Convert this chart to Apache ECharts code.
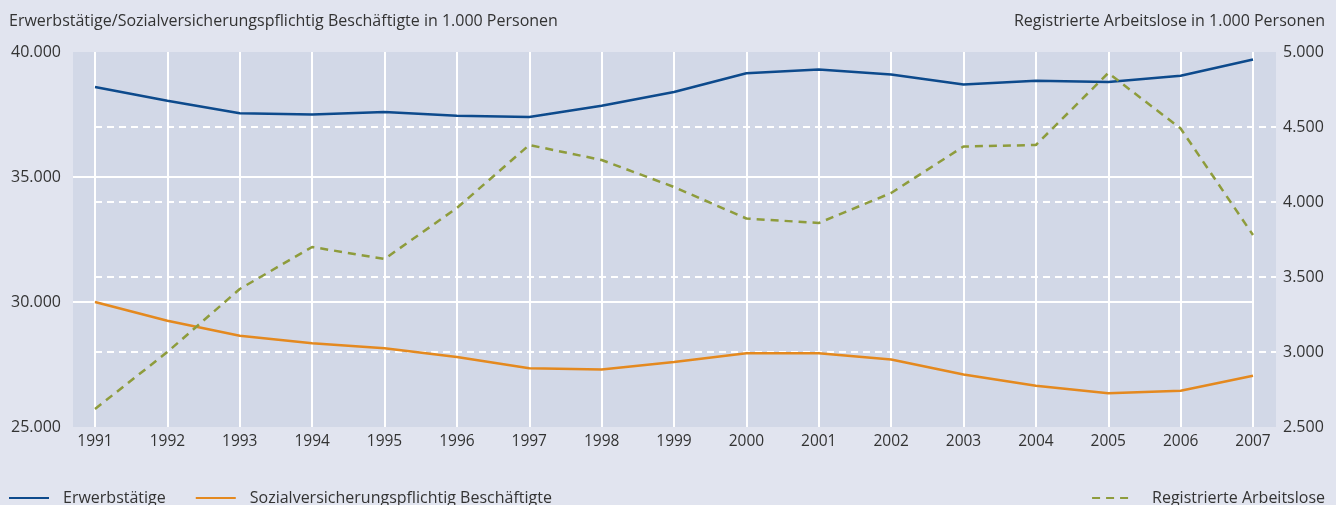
<!DOCTYPE html>
<html>
<head>
<meta charset="utf-8">
<script src="https://cdn.jsdelivr.net/npm/echarts@6/dist/echarts.min.js"></script>
<style>
  html, body { margin: 0; padding: 0; background: #e1e4ef; }
  #chart { width: 1336px; height: 505px; }
</style>
</head>
<body>
<div id="chart"></div>
<script>
// Jahre (x-Achse)
const years = ['1991', '1992', '1993', '1994', '1995', '1996', '1997', '1998', '1999',
    '2000', '2001', '2002', '2003', '2004', '2005', '2006', '2007'];

// in 1.000 Personen, linke Achse
const erwerbstaetige = [38600, 38050, 37550, 37500, 37600, 37450, 37400, 37850, 38400,
    39150, 39300, 39100, 38700, 38850, 38800, 39050, 39700];
const sozialversichert = [30000, 29250, 28650, 28350, 28150, 27800, 27350, 27300, 27600,
    27950, 27950, 27700, 27100, 26650, 26350, 26450, 27050];

// in 1.000 Personen, rechte Achse
const arbeitslose = [2620, 3000, 3420, 3700, 3620, 3960, 4380, 4280, 4100,
    3890, 3860, 4060, 4370, 4380, 4860, 4490, 3780];

const textColor = '#333333';
const fontFam = '"Open Sans", sans-serif';

// 40000 -> "40.000"
function deNum(v) {
    return String(v).replace(/\B(?=(\d{3})+(?!\d))/g, '.');
}

const hiddenAxis = { show: false, splitLine: { show: false } };

const option = {
    backgroundColor: '#e1e4ef',
    animation: false,
    textStyle: { fontFamily: fontFam, color: textColor },
    title: [
        {
            text: 'Erwerbstätige/Sozialversicherungspflichtig Beschäftigte in 1.000 Personen',
            left: 4, top: 8,
            textStyle: { fontSize: 16, fontWeight: 'normal', color: textColor, fontFamily: fontFam }
        },
        {
            text: 'Registrierte Arbeitslose in 1.000 Personen',
            right: 6, top: 8,
            textStyle: { fontSize: 16, fontWeight: 'normal', color: textColor, fontFamily: fontFam }
        }
    ],
    legend: [
        {
            left: 3, top: 485,
            itemWidth: 40, itemHeight: 12, itemGap: 29,
            itemStyle: { opacity: 0 },
            textStyle: { fontSize: 16, color: textColor, padding: [0, 0, 0, 9] },
            data: ['Erwerbstätige', 'Sozialversicherungspflichtig Beschäftigte']
        },
        {
            right: 6, top: 485,
            itemWidth: 38, itemHeight: 12,
            itemStyle: { opacity: 0 },
            textStyle: { fontSize: 16, color: textColor, padding: [0, 0, 0, 17] },
            data: ['Registrierte Arbeitslose']
        }
    ],
    grid: [
        // Hintergrund der Zeichenfläche
        { left: 73, right: 60, top: 52, bottom: 78, show: true, backgroundColor: '#d2d8e7', borderWidth: 0 },
        // linke Achse (durchgezogene Linien)
        { left: 73, right: 83, top: 52, bottom: 78 },
        // rechte Achse (gestrichelte Linien)
        { left: 95, right: 60, top: 52, bottom: 78 },
        // Daten
        { left: 95, right: 83, top: 52, bottom: 78 }
    ],
    xAxis: [
        Object.assign({ gridIndex: 0, type: 'value' }, hiddenAxis),
        Object.assign({ gridIndex: 1, type: 'value' }, hiddenAxis),
        Object.assign({ gridIndex: 2, type: 'value' }, hiddenAxis),
        {
            gridIndex: 3,
            type: 'category',
            data: years,
            boundaryGap: false,
            axisLine: { show: false },
            axisTick: { show: false },
            axisLabel: { color: textColor, fontSize: 15.5, margin: 7 },
            splitLine: { show: true, interval: 0, lineStyle: { color: '#ffffff', width: 2 } }
        }
    ],
    yAxis: [
        Object.assign({ gridIndex: 0, type: 'value' }, hiddenAxis),
        {
            gridIndex: 1,
            type: 'value',
            min: 25000, max: 40000, interval: 5000,
            axisLine: { show: false },
            axisTick: { show: false },
            axisLabel: { color: textColor, fontSize: 16, margin: 12, formatter: deNum },
            splitLine: { show: true, showMinLine: false, showMaxLine: false, lineStyle: { color: '#ffffff', width: 2 } }
        },
        {
            gridIndex: 2,
            type: 'value',
            position: 'right',
            min: 2500, max: 5000, interval: 500,
            axisLine: { show: false },
            axisTick: { show: false },
            axisLabel: { color: textColor, fontSize: 16, margin: 7, formatter: deNum },
            splitLine: { show: true, showMinLine: false, showMaxLine: false, lineStyle: { color: '#ffffff', width: 2, type: [7, 5] } }
        },
        Object.assign({ gridIndex: 3, type: 'value', min: 25000, max: 40000 }, hiddenAxis),
        Object.assign({ gridIndex: 3, type: 'value', min: 2500, max: 5000 }, hiddenAxis)
    ],
    series: [
        {
            name: 'Erwerbstätige',
            type: 'line',
            xAxisIndex: 3, yAxisIndex: 3,
            data: erwerbstaetige,
            symbol: 'none',
            color: '#0d4a8c',
            lineStyle: { color: '#0d4a8c', width: 2.5 }
        },
        {
            name: 'Sozialversicherungspflichtig Beschäftigte',
            type: 'line',
            xAxisIndex: 3, yAxisIndex: 3,
            data: sozialversichert,
            symbol: 'none',
            color: '#e4891f',
            lineStyle: { color: '#e4891f', width: 2.5 }
        },
        {
            name: 'Registrierte Arbeitslose',
            type: 'line',
            xAxisIndex: 3, yAxisIndex: 4,
            data: arbeitslose,
            symbol: 'none',
            color: '#8e9c3c',
            lineStyle: { color: '#8e9c3c', width: 2.5, type: [8, 6] }
        }
    ]
};

var chart = echarts.init(document.getElementById('chart'));
chart.setOption(option);
</script>
</body>
</html>
